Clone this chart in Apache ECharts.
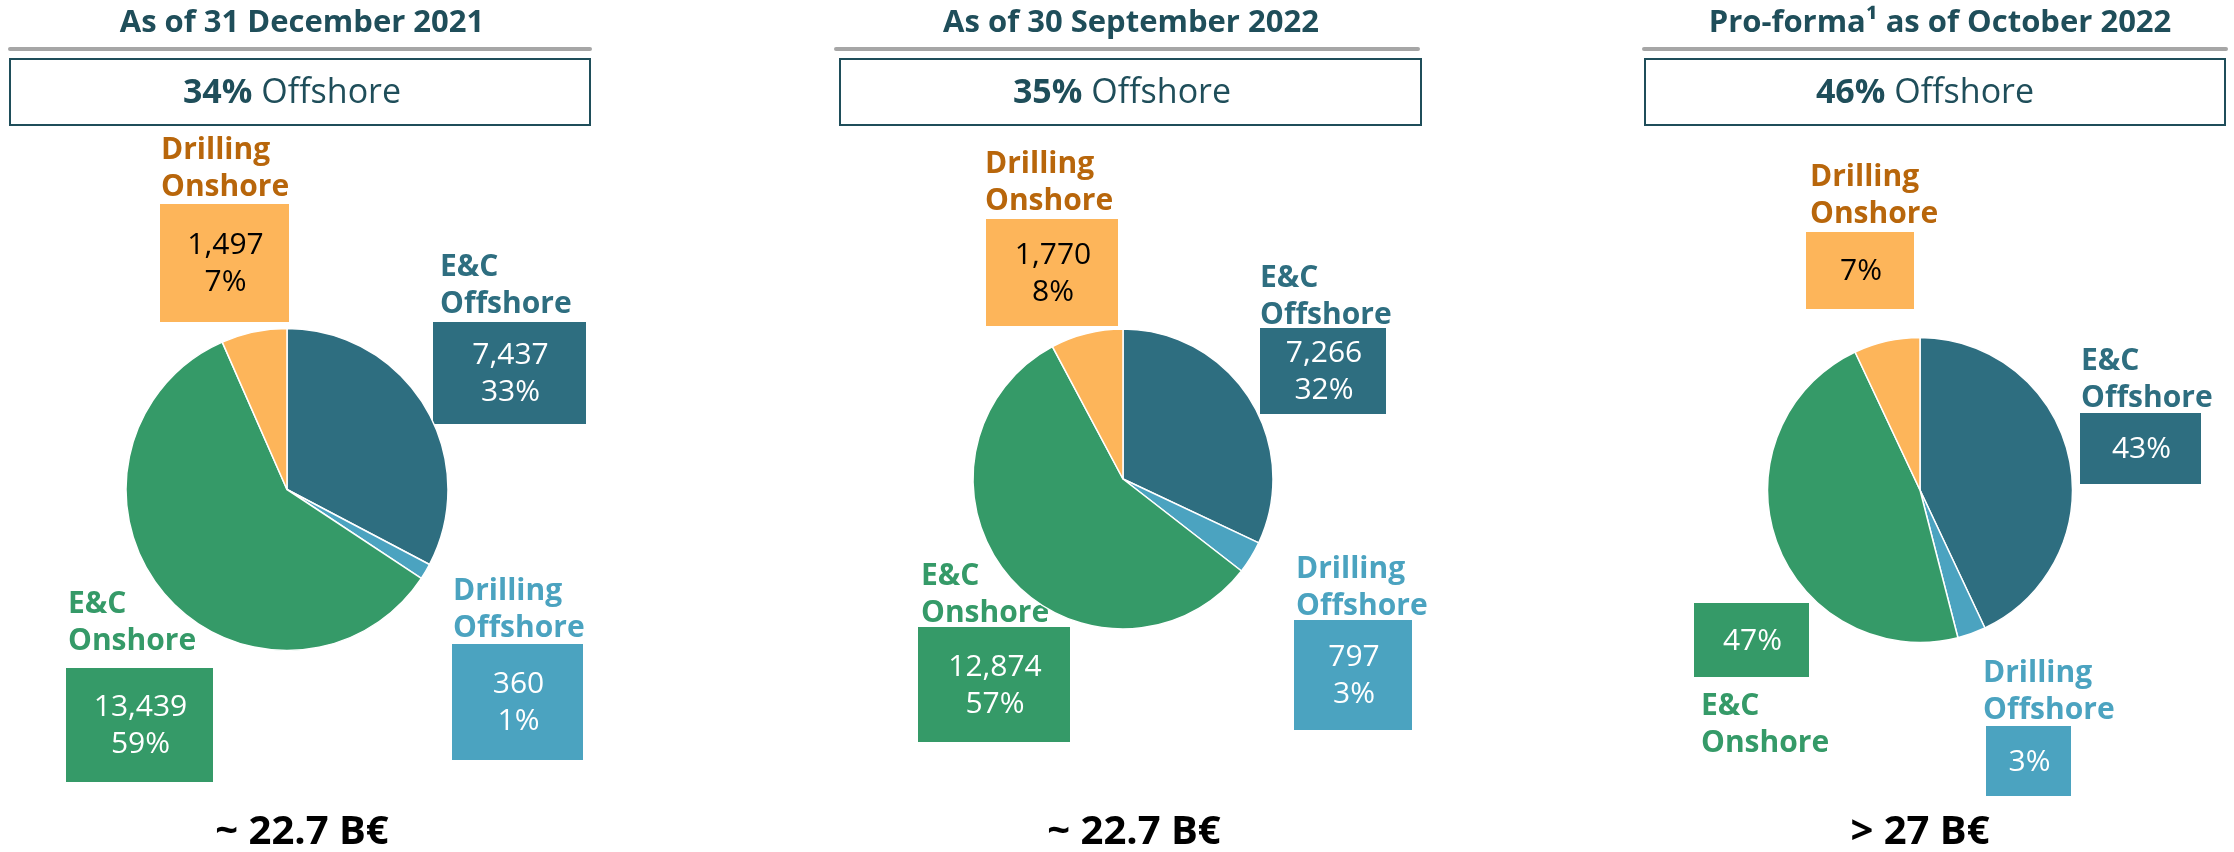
<!DOCTYPE html>
<html>
<head>
<meta charset="utf-8">
<script src="https://cdn.jsdelivr.net/npm/echarts@6/dist/echarts.min.js"></script>
<style>
  html, body { margin: 0; padding: 0; background: #fff; }
  #chart { width: 2234px; height: 852px; }
</style>
</head>
<body>
<div id="chart"></div>
<script>
// --- data ---
const categories = ['E&C Offshore', 'Drilling Offshore', 'E&C Onshore', 'Drilling Onshore'];
const panelTitles = ['As of 31 December 2021', 'As of 30 September 2022', 'Pro-forma¹ as of October 2022'];
const offshoreShare = ['34%', '35%', '46%'];
const totals = ['~ 22.7 B€', '~ 22.7 B€', '> 27 B€'];

const values2021 = [7437, 360, 13439, 1497];
const pct2021 = [33, 1, 59, 7];
const values2022 = [7266, 797, 12874, 1770];
const pct2022 = [32, 3, 57, 8];
const pctProforma = [43, 3, 47, 7];

// --- styling / layout ---
const FONT = '"Open Sans", "Liberation Sans", sans-serif';
const TEAL = '#1F4E5A';
const sliceColors = ['#2E6E80', '#4BA3C0', '#359A68', '#FDB55A'];
const labelColors = ['#2E6E80', '#4BA3C0', '#359A68', '#B8660B'];
const boxTextColors = ['#ffffff', '#ffffff', '#ffffff', '#000000'];

const panels = [
  {
    values: values2021, pct: pct2021, showValue: true,
    titleX: 302, line: [10, 590], head: [10, 59, 580, 66], headX: 292,
    pie: [287, 489.5, 161],
    labels: [[440, 285], [453, 609], [68, 622], [161, 168]],
    boxes: [[433, 322, 153, 102], [452, 644, 131, 116], [66, 668, 147, 114], [160, 204, 129, 118]],
    total: [302, 833]
  },
  {
    values: values2022, pct: pct2022, showValue: true,
    titleX: 1131, line: [836, 1418], head: [840, 59, 581, 66], headX: 1122,
    pie: [1123, 479, 150],
    labels: [[1260, 296], [1296, 587], [921, 594], [985, 182]],
    boxes: [[1260, 328, 126, 86], [1294, 620, 118, 110], [918, 627, 152, 115], [986, 219, 132, 107]],
    total: [1134, 833]
  },
  {
    values: pctProforma, pct: pctProforma, showValue: false,
    titleX: 1940, line: [1644, 2226], head: [1645, 59, 580, 66], headX: 1925,
    pie: [1920, 490, 152.5],
    labels: [[2081, 379], [1983, 691], [1701, 724], [1810, 195]],
    boxes: [[2080, 413, 121, 71], [1986, 726, 85, 70], [1694, 603, 115, 74], [1806, 232, 108, 77]],
    total: [1920, 833]
  }
];

const graphic = [];
const series = [];

panels.forEach((p, k) => {
  // title
  graphic.push({
    type: 'text', x: p.titleX, y: 23, silent: true,
    style: { text: panelTitles[k], fill: TEAL, fontFamily: FONT, fontWeight: 'bold', fontSize: 31,
             align: 'center', verticalAlign: 'middle' }
  });
  // grey rule
  graphic.push({
    type: 'line', silent: true,
    shape: { x1: p.line[0], y1: 49, x2: p.line[1], y2: 49 },
    style: { stroke: '#A6A6A6', lineWidth: 4, lineCap: 'round' }
  });
  // offshore box
  graphic.push({
    type: 'rect', silent: true,
    shape: { x: p.head[0], y: p.head[1], width: p.head[2], height: p.head[3] },
    style: { fill: '#fff', stroke: TEAL, lineWidth: 2 }
  });
  graphic.push({
    type: 'text', x: p.headX, y: 93, silent: true,
    style: { text: '{b|' + offshoreShare[k] + '} Offshore', fill: TEAL, fontFamily: FONT, fontSize: 34,
             align: 'center', verticalAlign: 'middle',
             rich: { b: { fontWeight: 'bold', fontSize: 34, fontFamily: FONT, fill: TEAL } } }
  });
  // category labels and value boxes
  categories.forEach((name, i) => {
    const [lx, ly] = p.labels[i];
    graphic.push({
      type: 'text', x: lx, y: ly + 1, silent: true,
      style: { text: name.replace(' ', '\n'), fill: labelColors[i], fontFamily: FONT, fontWeight: 'bold',
               fontSize: 30, lineHeight: 37, align: 'left', verticalAlign: 'middle' }
    });
    const [bx, by, bw, bh] = p.boxes[i];
    graphic.push({
      type: 'rect', silent: true,
      shape: { x: bx, y: by, width: bw, height: bh },
      style: { fill: sliceColors[i] }
    });
    const txt = (p.showValue ? p.values[i].toLocaleString('en-US') + '\n' : '') + p.pct[i] + '%';
    graphic.push({
      type: 'text', x: bx + bw / 2 + 1, y: by + bh / 2 + 1, silent: true,
      style: { text: txt, fill: boxTextColors[i], fontFamily: FONT, fontSize: 30, lineHeight: 37,
               align: 'center', verticalAlign: 'middle' }
    });
  });
  // total
  graphic.push({
    type: 'text', x: p.total[0], y: p.total[1], silent: true,
    style: { text: totals[k], fill: '#000', fontFamily: FONT, fontWeight: 'bold', fontSize: 40,
             align: 'center', verticalAlign: 'middle' }
  });

  series.push({
    type: 'pie',
    center: [p.pie[0], p.pie[1]],
    radius: p.pie[2],
    startAngle: 90,
    clockwise: true,
    silent: true,
    label: { show: false },
    labelLine: { show: false },
    itemStyle: { borderColor: '#ffffff', borderWidth: 1.5 },
    data: categories.map((name, i) => ({
      name: name, value: p.values[i], itemStyle: { color: sliceColors[i] }
    }))
  });
});

const chart = echarts.init(document.getElementById('chart'), null, { renderer: 'canvas' });
chart.setOption({
  animation: false,
  backgroundColor: '#ffffff',
  series: series,
  graphic: graphic
});
</script>
</body>
</html>
